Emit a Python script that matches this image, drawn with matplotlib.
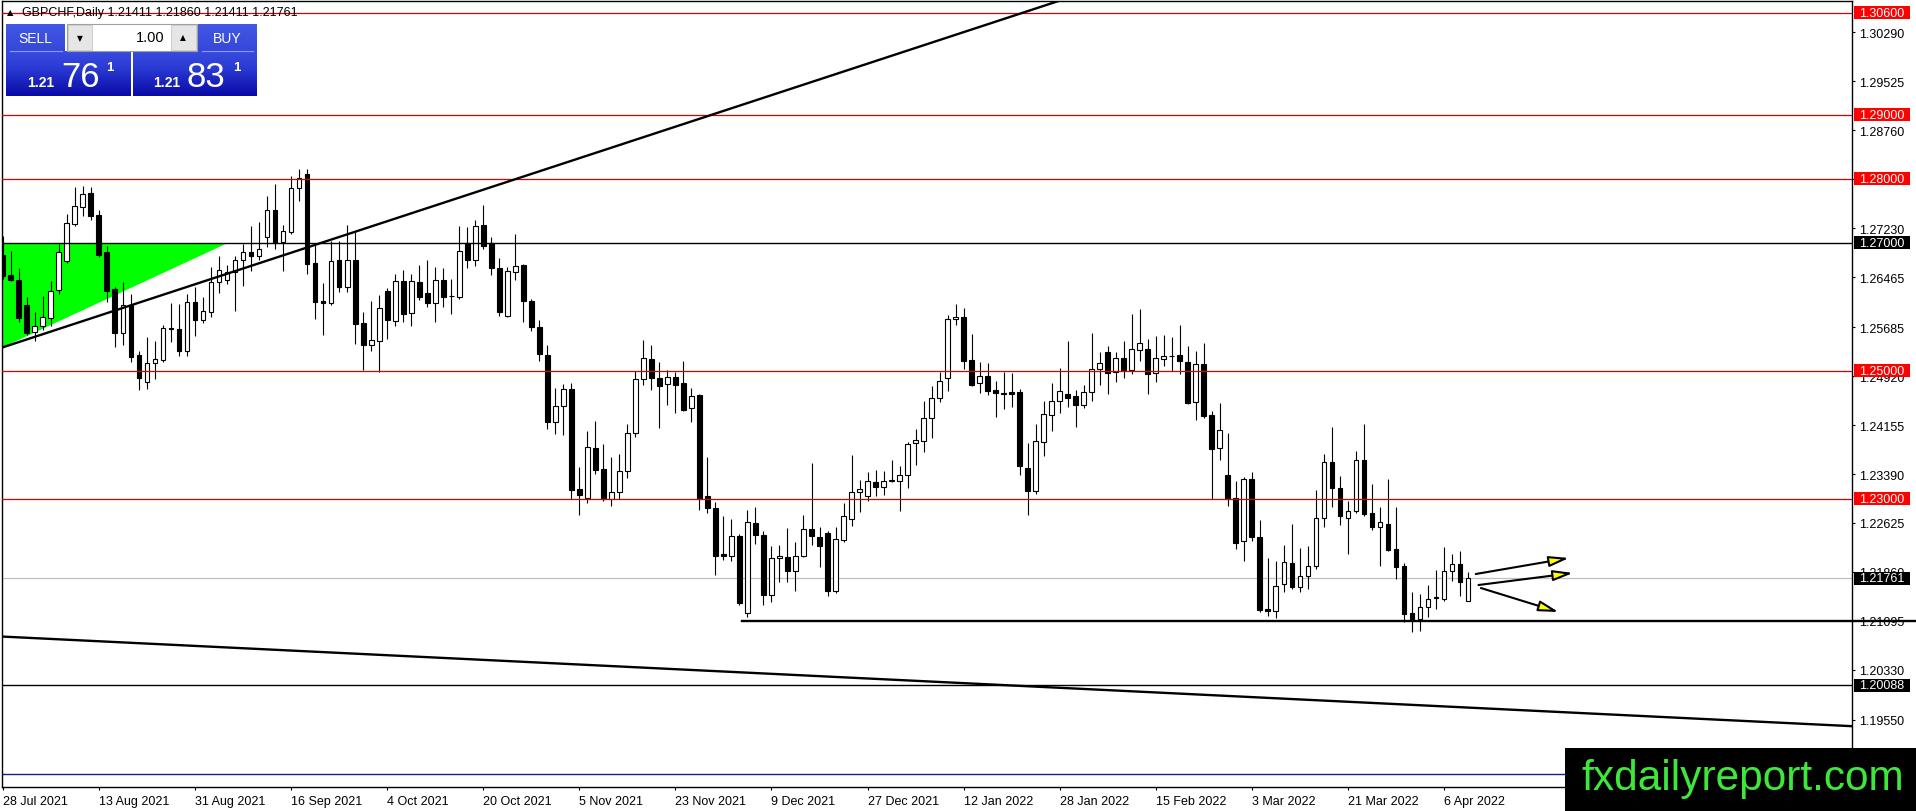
import numpy as np
import matplotlib
matplotlib.use("Agg")
import matplotlib.pyplot as plt
import matplotlib.transforms as mtransforms
from matplotlib.patches import Rectangle, FancyArrowPatch
from matplotlib.colors import LinearSegmentedColormap

W, H = 1916, 812
plt.rcParams["font.family"] = ["Liberation Sans", "DejaVu Sans"]

# GBPCHF daily candles, 28 Jul 2021 .. 11 Apr 2022 (one per business day)
opens = [
    1.2681, 1.2650, 1.2642, 1.2603, 1.2561, 1.2570, 1.2583, 1.2627, 1.2672, 1.2730,
    1.2756, 1.2778, 1.2744, 1.2686, 1.2628, 1.2559, 1.2603, 1.2525, 1.2483, 1.2512,
    1.2517, 1.2567, 1.2566, 1.2531, 1.2608, 1.2580, 1.2592, 1.2639, 1.2642, 1.2655,
    1.2673, 1.2686, 1.2680, 1.2709, 1.2752, 1.2702, 1.2717, 1.2786, 1.2808, 1.2669,
    1.2609, 1.2606, 1.2673, 1.2631, 1.2673, 1.2575, 1.2541, 1.2547, 1.2625, 1.2578,
    1.2641, 1.2591, 1.2639, 1.2622, 1.2606, 1.2642, 1.2617, 1.2616, 1.2700, 1.2673,
    1.2728, 1.2700, 1.2661, 1.2586, 1.2655, 1.2666, 1.2609, 1.2569, 1.2525, 1.2420,
    1.2445, 1.2472, 1.2316, 1.2302, 1.2380, 1.2347, 1.2300, 1.2311, 1.2344, 1.2403,
    1.2488, 1.2519, 1.2489, 1.2480, 1.2491, 1.2481, 1.2442, 1.2463, 1.2305, 1.2286,
    1.2214, 1.2211, 1.2242, 1.2122, 1.2263, 1.2244, 1.2150, 1.2208, 1.2209, 1.2188,
    1.2211, 1.2253, 1.2241, 1.2247, 1.2156, 1.2236, 1.2269, 1.2311, 1.2305, 1.2327,
    1.2319, 1.2328, 1.2328, 1.2338, 1.2388, 1.2391, 1.2427, 1.2458, 1.2489, 1.2581,
    1.2584, 1.2517, 1.2481, 1.2492, 1.2470, 1.2466, 1.2467, 1.2467, 1.2348, 1.2313,
    1.2389, 1.2431, 1.2453, 1.2464, 1.2461, 1.2447, 1.2467, 1.2503, 1.2530, 1.2498,
    1.2520, 1.2502, 1.2533, 1.2534, 1.2497, 1.2519, 1.2523, 1.2525, 1.2514, 1.2452,
    1.2511, 1.2431, 1.2380, 1.2338, 1.2302, 1.2234, 1.2331, 1.2241, 1.2128, 1.2125,
    1.2167, 1.2200, 1.2163, 1.2180, 1.2195, 1.2270, 1.2358, 1.2317, 1.2270, 1.2281,
    1.2361, 1.2278, 1.2256, 1.2261, 1.2222, 1.2195, 1.2122, 1.2113, 1.2131, 1.2145,
    1.2144, 1.2188, 1.2198, 1.21411,
]
highs = [
    1.2711, 1.2688, 1.2661, 1.2616, 1.2592, 1.2617, 1.2641, 1.2698, 1.2745, 1.2788,
    1.2789, 1.2788, 1.2752, 1.2695, 1.2631, 1.2639, 1.2620, 1.2531, 1.2553, 1.2547,
    1.2572, 1.2606, 1.2605, 1.2620, 1.2631, 1.2616, 1.2663, 1.2680, 1.2666, 1.2680,
    1.2698, 1.2727, 1.2733, 1.2773, 1.2792, 1.2728, 1.2805, 1.2816, 1.2816, 1.2698,
    1.2638, 1.2703, 1.2703, 1.2728, 1.2717, 1.2592, 1.2609, 1.2619, 1.2630, 1.2652,
    1.2658, 1.2652, 1.2666, 1.2673, 1.2663, 1.2661, 1.2644, 1.2727, 1.2725, 1.2736,
    1.2759, 1.2709, 1.2677, 1.2663, 1.2714, 1.2667, 1.2613, 1.2580, 1.2541, 1.2473,
    1.2480, 1.2481, 1.2350, 1.2406, 1.2422, 1.2386, 1.2366, 1.2370, 1.2417, 1.2500,
    1.2548, 1.2541, 1.2514, 1.2502, 1.2498, 1.2516, 1.2473, 1.2464, 1.2366, 1.2295,
    1.2273, 1.2269, 1.2245, 1.2283, 1.2288, 1.2250, 1.2227, 1.2228, 1.2255, 1.2233,
    1.2275, 1.2356, 1.2256, 1.2250, 1.2256, 1.2294, 1.2369, 1.2330, 1.2342, 1.2345,
    1.2344, 1.2361, 1.2352, 1.2389, 1.2409, 1.2453, 1.2477, 1.2498, 1.2588, 1.2605,
    1.2598, 1.2558, 1.2514, 1.2512, 1.2484, 1.2498, 1.2497, 1.2472, 1.2388, 1.2417,
    1.2453, 1.2481, 1.2505, 1.2547, 1.2470, 1.2478, 1.2559, 1.2530, 1.2539, 1.2530,
    1.2547, 1.2589, 1.2597, 1.2550, 1.2555, 1.2556, 1.2553, 1.2572, 1.2539, 1.2531,
    1.2544, 1.2438, 1.2450, 1.2403, 1.2328, 1.2334, 1.2342, 1.2267, 1.2208, 1.2203,
    1.2228, 1.2261, 1.2223, 1.2227, 1.2314, 1.2370, 1.2413, 1.2336, 1.2297, 1.2375,
    1.2417, 1.2323, 1.2288, 1.2331, 1.2288, 1.2200, 1.2155, 1.2152, 1.2166, 1.2189,
    1.2225, 1.2214, 1.2219, 1.21860,
]
lows = [
    1.2644, 1.2641, 1.2577, 1.2556, 1.2547, 1.2564, 1.2570, 1.2620, 1.2669, 1.2727,
    1.2742, 1.2736, 1.2678, 1.2608, 1.2538, 1.2541, 1.2514, 1.2470, 1.2472, 1.2488,
    1.2514, 1.2545, 1.2523, 1.2523, 1.2555, 1.2575, 1.2584, 1.2622, 1.2636, 1.2594,
    1.2633, 1.2656, 1.2673, 1.2694, 1.2691, 1.2656, 1.2714, 1.2766, 1.2652, 1.2581,
    1.2556, 1.2603, 1.2623, 1.2623, 1.2542, 1.2502, 1.2531, 1.2498, 1.2550, 1.2570,
    1.2577, 1.2570, 1.2611, 1.2600, 1.2577, 1.2600, 1.2589, 1.2613, 1.2661, 1.2664,
    1.2691, 1.2650, 1.2586, 1.2584, 1.2642, 1.2577, 1.2563, 1.2516, 1.2409, 1.2402,
    1.2400, 1.2300, 1.2275, 1.2294, 1.2339, 1.2297, 1.2289, 1.2300, 1.2333, 1.2397,
    1.2478, 1.2470, 1.2411, 1.2447, 1.2434, 1.2438, 1.2420, 1.2283, 1.2278, 1.2181,
    1.2205, 1.2203, 1.2134, 1.2116, 1.2230, 1.2134, 1.2139, 1.2170, 1.2170, 1.2156,
    1.2209, 1.2228, 1.2194, 1.2148, 1.2153, 1.2233, 1.2258, 1.2280, 1.2297, 1.2305,
    1.2306, 1.2327, 1.2281, 1.2317, 1.2353, 1.2373, 1.2395, 1.2452, 1.2469, 1.2572,
    1.2503, 1.2477, 1.2466, 1.2463, 1.2428, 1.2441, 1.2444, 1.2338, 1.2275, 1.2308,
    1.2367, 1.2406, 1.2434, 1.2444, 1.2413, 1.2442, 1.2453, 1.2478, 1.2464, 1.2483,
    1.2489, 1.2495, 1.2516, 1.2464, 1.2483, 1.2508, 1.2500, 1.2495, 1.2448, 1.2423,
    1.2427, 1.2300, 1.2361, 1.2289, 1.2222, 1.2203, 1.2234, 1.2123, 1.2117, 1.2114,
    1.2155, 1.2159, 1.2155, 1.2159, 1.2191, 1.2256, 1.2288, 1.2259, 1.2214, 1.2278,
    1.2273, 1.2252, 1.2195, 1.2219, 1.2175, 1.2108, 1.2092, 1.2094, 1.2116, 1.2128,
    1.2141, 1.2172, 1.2148, 1.21411,
]
closes = [
    1.2648, 1.2642, 1.2583, 1.2559, 1.2570, 1.2584, 1.2625, 1.2686, 1.2731, 1.2758,
    1.2777, 1.2742, 1.2681, 1.2625, 1.2559, 1.2603, 1.2522, 1.2489, 1.2512, 1.2519,
    1.2567, 1.2566, 1.2531, 1.2608, 1.2580, 1.2594, 1.2639, 1.2658, 1.2655, 1.2673,
    1.2686, 1.2680, 1.2691, 1.2752, 1.2700, 1.2719, 1.2786, 1.2802, 1.2667, 1.2608,
    1.2606, 1.2672, 1.2631, 1.2673, 1.2573, 1.2541, 1.2548, 1.2598, 1.2580, 1.2641,
    1.2589, 1.2641, 1.2616, 1.2606, 1.2642, 1.2616, 1.2617, 1.2688, 1.2673, 1.2727,
    1.2695, 1.2661, 1.2592, 1.2656, 1.2664, 1.2609, 1.2569, 1.2527, 1.2420, 1.2445,
    1.2472, 1.2314, 1.2306, 1.2381, 1.2345, 1.2300, 1.2311, 1.2344, 1.2403, 1.2488,
    1.2520, 1.2489, 1.2477, 1.2491, 1.2478, 1.2439, 1.2461, 1.2300, 1.2286, 1.2211,
    1.2211, 1.2242, 1.2138, 1.2264, 1.2244, 1.2150, 1.2208, 1.2211, 1.2188, 1.2211,
    1.2253, 1.2242, 1.2227, 1.2156, 1.2238, 1.2273, 1.2311, 1.2316, 1.2328, 1.2319,
    1.2328, 1.2330, 1.2338, 1.2386, 1.2392, 1.2427, 1.2458, 1.2484, 1.2581, 1.2584,
    1.2516, 1.2478, 1.2492, 1.2469, 1.2466, 1.2464, 1.2464, 1.2352, 1.2313, 1.2391,
    1.2433, 1.2453, 1.2469, 1.2458, 1.2447, 1.2467, 1.2503, 1.2512, 1.2497, 1.2520,
    1.2502, 1.2534, 1.2544, 1.2495, 1.2520, 1.2523, 1.2524, 1.2516, 1.2450, 1.2511,
    1.2430, 1.2378, 1.2408, 1.2300, 1.2231, 1.2331, 1.2241, 1.2127, 1.2125, 1.2164,
    1.2202, 1.2163, 1.2180, 1.2195, 1.2270, 1.2358, 1.2317, 1.2273, 1.2281, 1.2361,
    1.2277, 1.2256, 1.2264, 1.2220, 1.2194, 1.2120, 1.2113, 1.2131, 1.2144, 1.2147,
    1.2188, 1.2198, 1.2170, 1.21761,
]

date_ticks = list(range(0, 184, 12))
date_labels = ["28 Jul 2021", "13 Aug 2021", "31 Aug 2021", "16 Sep 2021",
               "4 Oct 2021", "20 Oct 2021", "5 Nov 2021", "23 Nov 2021",
               "9 Dec 2021", "27 Dec 2021", "12 Jan 2022", "28 Jan 2022",
               "15 Feb 2022", "3 Mar 2022", "21 Mar 2022", "6 Apr 2022"]

price_ticks = [1.30290, 1.29525, 1.28760, 1.27995, 1.27230, 1.26465, 1.25685,
               1.24920, 1.24155, 1.23390, 1.22625, 1.21860, 1.21095, 1.20330,
               1.19550]

red_levels = [1.30600, 1.29000, 1.28000, 1.25000, 1.23000]
black_levels = [1.27000, 1.20088]
bid_level = 1.21761
blue_level = 1.18700
support_level = 1.21095
support_from = 92.3

rise_x, rise_y = [0, 135], [1.2537, 1.3091]
fall_x, fall_y = [0, 231], [1.2085, 1.1945]
tri_x, tri_y = [0, 28.1, 0], [1.2700, 1.2700, 1.2537]

arrows = [
    (183.96, 1.21828, 195.6, 1.22078),
    (184.3, 1.21656, 196.1, 1.21844),
    (184.6, 1.21609, 194.3, 1.21234),
]

fig = plt.figure(figsize=(W / 100, H / 100), dpi=100)
ax = fig.add_axes([2 / W, 24 / H, 1850 / W, 786 / H])
ax.set_xlim(-0.1, 230.95)
ax.set_ylim(1.1850, 1.30781)

# objects
ax.fill(tri_x, tri_y, color="#00ff00", lw=0, zorder=1)
for lv in red_levels:
    ax.axhline(lv, color="#d80000", lw=0.9, zorder=5)
for lv in black_levels:
    ax.axhline(lv, color="black", lw=1.0, zorder=5)
ax.axhline(bid_level, color="#c0c0c0", lw=0.9, zorder=2)
ax.axhline(blue_level, color="#1a1a8c", lw=1.0, zorder=2)
ax.plot(rise_x, rise_y, color="black", lw=1.7, zorder=5)
ax.plot(fall_x, fall_y, color="black", lw=1.7, zorder=5)
ax.plot([support_from, 239.2], [support_level, support_level], color="black",
        lw=1.7, zorder=6, clip_on=False)

# candles
x = np.arange(len(opens))
o, h, l, c = (np.array(v) for v in (opens, highs, lows, closes))
up = c >= o
lo = np.minimum(o, c)
bh = np.maximum(np.abs(c - o), 0.00004)
ax.vlines(x, l, h, color="black", lw=0.8, zorder=3)
ax.bar(x[up], bh[up], bottom=lo[up], width=0.6, color="white",
       edgecolor="black", linewidth=0.8, zorder=4)
ax.bar(x[~up], bh[~up], bottom=lo[~up], width=0.6, color="black",
       edgecolor="black", linewidth=0.8, zorder=4)

for x0, y0, x1, y1 in arrows:
    ax.add_patch(FancyArrowPatch((x0, y0), (x1, y1),
                                 arrowstyle="-|>,head_length=12,head_width=3.2",
                                 mutation_scale=1, lw=1.5, ec="black", fc="#ffff00",
                                 shrinkA=0, shrinkB=0, zorder=7))

# axes
for sp in ax.spines.values():
    sp.set_linewidth(1.0)
ax.yaxis.tick_right()
ax.set_yticks(price_ticks)
ax.set_yticklabels(["%.5f" % v for v in price_ticks])
ax.set_xticks(date_ticks)
ax.set_xticklabels(date_labels, ha="left")
ax.tick_params(axis="both", direction="out", length=2.5, width=0.8,
               labelsize=9, colors="black")
ax.tick_params(axis="y", pad=2.5)
ax.tick_params(axis="x", pad=3)

# overlay in pixel space: price boxes, header, trade panel, logo
ov = fig.add_axes([0, 0, 1, 1], zorder=10)
ov.patch.set_visible(False)
ov.axis("off")
bt = mtransforms.blended_transform_factory(ov.transData, ax.transData)
box_h = 13 / 6400
for lv in red_levels + black_levels + [bid_level]:
    fc = "#ff0000" if lv in red_levels else "black"
    ov.add_patch(Rectangle((1854, lv - box_h / 2), 56, box_h, transform=bt,
                           fc=fc, ec="none", clip_on=False))
    ov.text(1859, lv, "%.5f" % lv, transform=bt, color="white", fontsize=9,
            va="center", ha="left", clip_on=False)

ov.text(7, 13, "▲", family="DejaVu Sans", fontsize=6, va="center", ha="left")
ov.text(22, 13, "GBPCHF,Daily 1.21411 1.21860 1.21411 1.21761", fontsize=9,
        va="center", ha="left")

blue = LinearSegmentedColormap.from_list("mt", ["#4358e4", "#2a3bd4", "#0a0aa6"])
grad = np.linspace(0, 1, 100).reshape(-1, 1)
for x0, x1, y0, y1 in [(6, 65, 25, 52), (198, 257, 25, 52)]:
    ov.imshow(grad[:30], extent=(x0, x1, y1, y0), cmap=blue, vmin=0, vmax=1,
              aspect="auto", zorder=1)
for x0, x1 in [(6, 131), (133, 257)]:
    ov.imshow(grad[20:], extent=(x0, x1, 97, 52), cmap=blue, vmin=0, vmax=1,
              aspect="auto", zorder=1)
ov.plot([10, 62], [52, 52], color="#8c9af0", lw=0.8, zorder=2)
ov.plot([202, 253], [52, 52], color="#8c9af0", lw=0.8, zorder=2)
ov.add_patch(Rectangle((67, 25), 130, 27, fc="white", ec="#a0a0a0", lw=0.8, zorder=2))
ov.add_patch(Rectangle((68, 26), 24, 25, fc="#e6e6e6", ec="#c8c8c8", lw=0.6, zorder=3))
ov.add_patch(Rectangle((171, 26), 25, 25, fc="#e6e6e6", ec="#c8c8c8", lw=0.6, zorder=3))
ov.text(80, 39, "▼", family="DejaVu Sans", fontsize=5.5, ha="center", va="center", zorder=4)
ov.text(183, 38, "▲", family="DejaVu Sans", fontsize=5.5, ha="center", va="center", zorder=4)
ov.text(165, 38.5, "1.00", fontsize=10.5, ha="right", va="center", zorder=4)
ov.text(35, 39, "SELL", color="white", fontsize=10, ha="center", va="center", zorder=4)
ov.text(227, 39, "BUY", color="white", fontsize=10, ha="center", va="center", zorder=4)
for x_small, x_big, x_sup, big in [(27, 61, 106, "76"), (153, 187, 233, "83")]:
    ov.text(x_small, 87, "1.21", color="white", fontsize=10, weight="bold",
            ha="left", va="baseline", zorder=4)
    ov.text(x_big, 87, big, color="white", fontsize=25, ha="left", va="baseline", zorder=4)
    ov.text(x_sup, 71, "1", color="white", fontsize=9.5, weight="bold",
            ha="left", va="baseline", zorder=4)

ov.add_patch(Rectangle((1565, 749), 351, 63, fc="black", ec="none", zorder=5))
ov.text(1581, 790, "fxdailyreport.com", color="#3ee83a", fontsize=30.5,
        ha="left", va="baseline", zorder=6)

ov.set_xlim(0, W)
ov.set_ylim(H, 0)

fig.savefig("out.png", dpi=100)
